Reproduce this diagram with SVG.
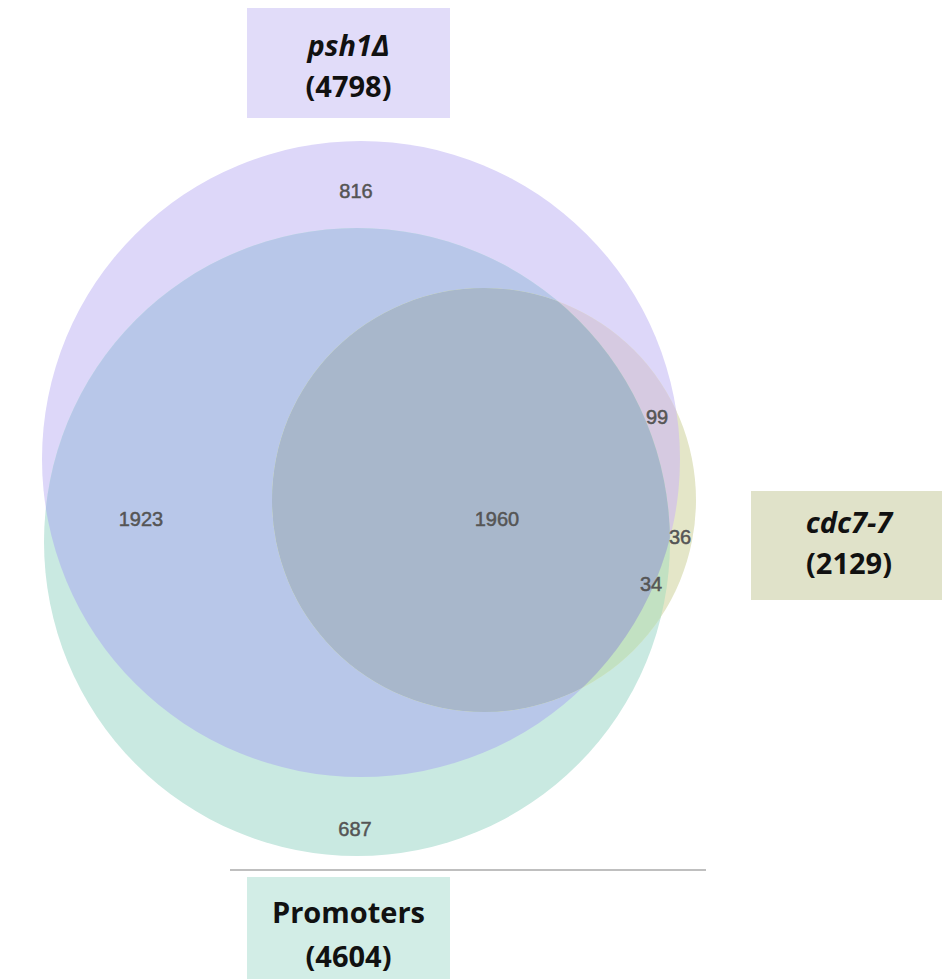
<svg xmlns="http://www.w3.org/2000/svg" width="942" height="979" viewBox="0 0 942 979">
<style>
.num{font-family:"Liberation Sans",Arial,sans-serif;font-size:20px;fill:#555555;stroke:#555555;stroke-width:0.5;text-anchor:middle}
.lbl{font-family:"Open Sans","Liberation Sans",sans-serif;font-size:29px;font-weight:bold;fill:#111;text-anchor:middle}
.it{font-style:italic}
</style>
<defs>
<clipPath id="cP"><ellipse cx="361" cy="459" rx="319" ry="318"/></clipPath>
<clipPath id="cG"><ellipse cx="357" cy="542" rx="313" ry="314"/></clipPath>
</defs>
<rect width="942" height="979" fill="#ffffff"/>
<g id="regions">
<ellipse id="set-psh1" cx="361" cy="459" rx="319" ry="318" fill="#ddd7f9"/>
<ellipse id="set-promoters" cx="357" cy="542" rx="313" ry="314" fill="#c9e9e1"/>
<ellipse cx="357" cy="542" rx="313" ry="314" fill="#b8c7e9" clip-path="url(#cP)"/>
<circle id="set-cdc7" cx="484" cy="500" r="212" fill="#e4e6c8"/>
<circle cx="484" cy="500" r="212" fill="#d6cae1" clip-path="url(#cP)"/>
<circle cx="484" cy="500" r="212" fill="#c2e1c2" clip-path="url(#cG)"/>
<g clip-path="url(#cP)"><circle cx="484" cy="500" r="212" fill="#a8b7cb" clip-path="url(#cG)"/></g>
</g>
<g id="counts">
<text class="num" x="356" y="198">816</text>
<text class="num" x="141" y="526">1923</text>
<text class="num" x="497" y="526">1960</text>
<text class="num" x="657" y="424">99</text>
<text class="num" x="680" y="544">36</text>
<text class="num" x="651" y="591">34</text>
<text class="num" x="355" y="836">687</text>
</g>
<line x1="230" y1="870" x2="706" y2="870" stroke="#aaaaaa" stroke-width="1.5"/>
<g id="node-psh1">
<rect x="247" y="8" width="203" height="110" fill="#e1dcf9"/>
<text class="lbl it" x="348.5" y="56">psh1Δ</text>
<text class="lbl" x="348.5" y="97">(4798)</text>
</g>
<g id="node-cdc7">
<rect x="751" y="491" width="191" height="109" fill="#e0e2c9"/>
<text class="lbl it" x="849" y="533">cdc7-7</text>
<text class="lbl" x="849" y="574">(2129)</text>
</g>
<g id="node-promoters">
<rect x="247" y="877" width="203" height="102" fill="#d2ede6"/>
<text class="lbl" x="348.5" y="923">Promoters</text>
<text class="lbl" x="348.5" y="967">(4604)</text>
</g>
</svg>
